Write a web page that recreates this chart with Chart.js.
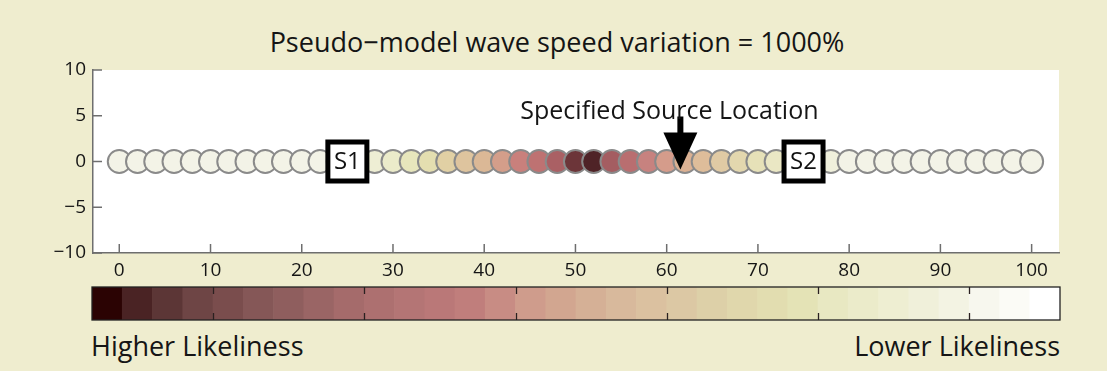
<!DOCTYPE html>
<html lang="en">
<head>
    <meta charset="UTF-8">
    <title>Pseudo-model wave speed variation</title>
    <script src="https://cdn.jsdelivr.net/npm/chart.js"></script>
    <style>
        body {
            margin: 0;
            width: 1107px;
            height: 371px;
            position: relative;
            overflow: hidden;
            background: #efedcf;
            font-family: "Open Sans", sans-serif;
            color: #151515;
        }
        .title {
            position: absolute;
            left: 0;
            top: 24px;
            width: 1114px;
            text-align: center;
            font-size: 27px;
            line-height: 36px;
        }
        .box { position: absolute; }
        .label {
            position: absolute;
            top: 328px;
            font-size: 27px;
            line-height: 36px;
        }
    </style>
</head>
<body>
    <div class="title">Pseudo−model wave speed variation = 1000%</div>
    <div class="box" style="left:0;top:0;width:1107px;height:285px"><canvas id="main"></canvas></div>
    <div class="box" style="left:88px;top:283px;width:976px;height:42px"><canvas id="bar"></canvas></div>
    <div class="label" style="left:91px">Higher Likeliness</div>
    <div class="label" style="right:47px">Lower Likeliness</div>

    <script>
        // receiver positions along the line
        const positions = [0, 2, 4, 6, 8, 10, 12, 14, 16, 18, 20, 22, 24, 26, 28, 30, 32, 34, 36, 38, 40, 42, 44, 46, 48, 50,
                           52, 54, 56, 58, 60, 62, 64, 66, 68, 70, 72, 74, 76, 78, 80, 82, 84, 86, 88, 90, 92, 94, 96, 98, 100];
        const offsets = [0, 0, 0, 0, 0, 0, 0, 0, 0, 0, 0, 0, 0, 0, 0, 0, 0, 0, 0, 0, 0, 0, 0, 0, 0, 0,
                         0, 0, 0, 0, 0, 0, 0, 0, 0, 0, 0, 0, 0, 0, 0, 0, 0, 0, 0, 0, 0, 0, 0, 0, 0];
        // likeliness colour of each circle
        const circleColors = [
            '#f3f3e7', '#f3f3e7', '#f3f3e7', '#f3f3e7', '#f3f3e7', '#f3f3e7', '#f3f3e7', '#f3f3e7', '#f3f3e7', '#f3f3e7',
            '#f3f3e7', '#f3f3e7', '#f2f2e2', '#f0f0da', '#eeeed4', '#ebebca', '#e7e6bc', '#e4deb0', '#e1d0a4', '#dec49e',
            '#dbb896', '#d49e8a', '#c9807c', '#be7272', '#aa6064', '#6c3539', '#4f2327', '#a45d61', '#b96e70', '#c7827f',
            '#d59c8b', '#dbb193', '#debd9a', '#e0caa4', '#e3d7ae', '#e6e1b8', '#eae7c4', '#ecebcc', '#eeeed4', '#f0f0dc',
            '#f3f3e7', '#f3f3e7', '#f3f3e7', '#f3f3e7', '#f3f3e7', '#f3f3e7', '#f3f3e7', '#f3f3e7', '#f3f3e7', '#f3f3e7',
            '#f3f3e7'
        ];
        const xTicks = [0, 10, 20, 30, 40, 50, 60, 70, 80, 90, 100];
        const yTicks = [-10, -5, 0, 5, 10];

        // stations and the specified source
        const stationNames = ['S1', 'S2'];
        const stationX = [25, 75];
        const sourceLabel = 'Specified Source Location';
        const sourceX = 61.5;

        // colour bar segments
        const barColors = [
            '#2b0303', '#4a2324', '#5c3636', '#6e4545', '#7a4d4d', '#855757', '#8f5e5e', '#9a6565',
            '#a56b6b', '#ad7070', '#b47575', '#ba7878', '#c07e7c', '#c88c84', '#cf9c8c', '#d2a690',
            '#d5b096', '#d8b99c', '#dbc1a0', '#dcc8a4', '#ddd0a8', '#e0d7ac', '#e2ddb0', '#e4e3b6',
            '#e8e8c2', '#ebebca', '#eeeed2', '#f0f0da', '#f3f3e3', '#f7f7ee', '#fbfbf6', '#ffffff'
        ];
        const barValues = [1, 1, 1, 1, 1, 1, 1, 1, 1, 1, 1, 1, 1, 1, 1, 1, 1, 1, 1, 1, 1, 1, 1, 1, 1, 1, 1, 1, 1, 1, 1, 1];
        const barTickAfter = [4, 9, 14, 19, 24, 29];

        const FONT = "'Open Sans', sans-serif";

        const plotDecor = {
            id: 'plotDecor',
            beforeDraw(chart) {
                const { ctx, chartArea: a } = chart;
                ctx.save();
                ctx.fillStyle = '#ffffff';
                ctx.fillRect(a.left, a.top, a.right - a.left, a.bottom - a.top);
                ctx.restore();
            },
            afterDraw(chart) {
                const { ctx, chartArea: a, scales } = chart;
                const xs = scales.x, ys = scales.y;
                ctx.save();
                ctx.strokeStyle = '#6e6e6e';
                ctx.lineWidth = 1.5;
                // inward tick marks
                xTicks.forEach(v => {
                    const px = xs.getPixelForValue(v);
                    ctx.beginPath();
                    ctx.moveTo(px, a.bottom);
                    ctx.lineTo(px, a.bottom - 9);
                    ctx.stroke();
                });
                yTicks.forEach(v => {
                    const py = ys.getPixelForValue(v);
                    ctx.beginPath();
                    ctx.moveTo(a.left, py);
                    ctx.lineTo(a.left + 9, py);
                    ctx.stroke();
                });

                // station boxes
                const cy = ys.getPixelForValue(0);
                stationNames.forEach((name, i) => {
                    const cx = xs.getPixelForValue(stationX[i]);
                    ctx.fillStyle = '#ffffff';
                    ctx.fillRect(cx - 21, cy - 21, 42, 42);
                    ctx.strokeStyle = '#000000';
                    ctx.lineWidth = 5;
                    ctx.strokeRect(cx - 19.5, cy - 19.5, 39, 39);
                    ctx.fillStyle = '#111111';
                    ctx.font = '24px ' + FONT;
                    ctx.textAlign = 'center';
                    ctx.textBaseline = 'middle';
                    ctx.fillText(name, cx, cy + 1);
                });

                // source arrow + label
                const ax = xs.getPixelForValue(sourceX);
                const tip = cy + 8;
                ctx.fillStyle = '#000000';
                ctx.fillRect(ax - 3, tip - 53, 6, 18);
                ctx.beginPath();
                ctx.moveTo(ax - 17, tip - 37);
                ctx.lineTo(ax + 17, tip - 37);
                ctx.lineTo(ax, tip);
                ctx.closePath();
                ctx.fill();
                ctx.fillStyle = '#151515';
                ctx.font = '25px ' + FONT;
                ctx.textAlign = 'center';
                ctx.textBaseline = 'alphabetic';
                ctx.fillText(sourceLabel, xs.getPixelForValue(60.3), cy - 43);
                ctx.restore();
            }
        };

        new Chart(document.getElementById('main'), {
            type: 'scatter',
            data: {
                datasets: [{
                    data: positions.map((x, i) => ({ x: x, y: offsets[i] })),
                    backgroundColor: circleColors,
                    borderColor: '#8a8a8a',
                    borderWidth: 2,
                    pointRadius: 11.5,
                    pointHoverRadius: 11.5
                }]
            },
            options: {
                responsive: true,
                maintainAspectRatio: false,
                animation: false,
                layout: { padding: { left: 0, right: 48, top: 70, bottom: 0 } },
                plugins: { legend: { display: false }, tooltip: { enabled: false } },
                scales: {
                    x: {
                        type: 'linear',
                        min: -2.88,
                        max: 103,
                        afterBuildTicks: scale => { scale.ticks = xTicks.map(v => ({ value: v })); },
                        afterFit: scale => { scale.height = 32; },
                        grid: { display: false, drawTicks: false },
                        border: { display: true, color: '#6e6e6e', width: 1.5 },
                        ticks: { padding: 6, color: '#151515', font: { family: FONT, size: 19 } }
                    },
                    y: {
                        min: -10,
                        max: 10,
                        afterBuildTicks: scale => { scale.ticks = yTicks.map(v => ({ value: v })); },
                        afterFit: scale => { scale.width = 93; },
                        grid: { display: false, drawTicks: false },
                        border: { display: true, color: '#6e6e6e', width: 1.5 },
                        ticks: {
                            padding: 7,
                            color: '#151515',
                            font: { family: FONT, size: 19 },
                            callback: v => v < 0 ? '−' + Math.abs(v) : String(v)
                        }
                    }
                }
            },
            plugins: [plotDecor]
        });

        const barDecor = {
            id: 'barDecor',
            afterDraw(chart) {
                const { ctx, chartArea: a, scales } = chart;
                const xs = scales.x;
                ctx.save();
                ctx.strokeStyle = '#2a2020';
                ctx.lineWidth = 1.3;
                barTickAfter.forEach(n => {
                    const px = Math.round((xs.getPixelForValue(n - 1) + xs.getPixelForValue(n)) / 2) + 0.5;
                    ctx.beginPath();
                    ctx.moveTo(px, a.top);
                    ctx.lineTo(px, a.top + 7);
                    ctx.moveTo(px, a.bottom);
                    ctx.lineTo(px, a.bottom - 7);
                    ctx.stroke();
                });
                ctx.strokeStyle = '#222222';
                ctx.lineWidth = 1.3;
                ctx.strokeRect(a.left, a.top, a.right - a.left, a.bottom - a.top);
                ctx.restore();
            }
        };

        new Chart(document.getElementById('bar'), {
            type: 'bar',
            data: {
                labels: barColors.map((c, i) => String(i + 1)),
                datasets: [{
                    data: barValues,
                    backgroundColor: barColors,
                    borderWidth: 0,
                    categoryPercentage: 1,
                    barPercentage: 1
                }]
            },
            options: {
                responsive: true,
                maintainAspectRatio: false,
                animation: false,
                layout: { padding: { left: 4, right: 4, top: 4, bottom: 5 } },
                plugins: { legend: { display: false }, tooltip: { enabled: false } },
                scales: {
                    x: { display: false },
                    y: { display: false, min: 0, max: 1 }
                }
            },
            plugins: [barDecor]
        });
    </script>
</body>
</html>
